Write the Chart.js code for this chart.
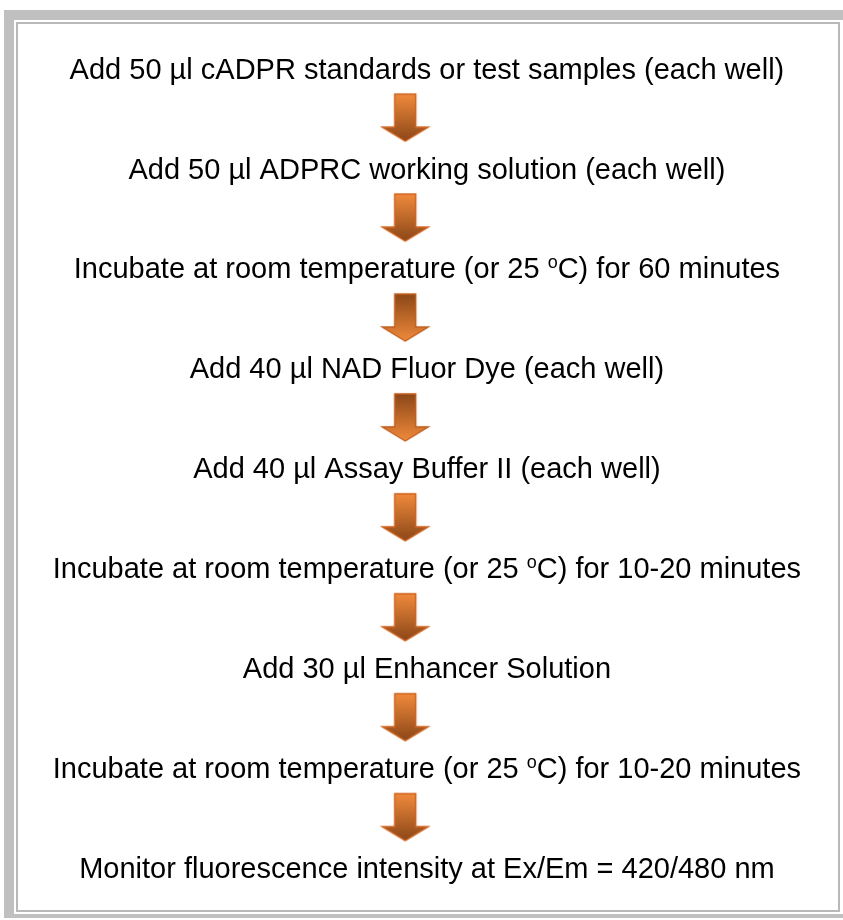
<!DOCTYPE html>
<html><head><meta charset="utf-8">
<script src="https://cdn.jsdelivr.net/npm/chart.js@4.4.0/dist/chart.umd.min.js"></script>
<style>
html,body{margin:0;padding:0;background:#fff;overflow:hidden;width:843px;height:920px}
#outer{position:absolute;left:4px;top:10px;width:860px;height:908px;background:#c0c0c0}
#inner{position:absolute;left:14px;top:20px;width:850px;height:894px;background:#fff}
#line{position:absolute;left:16px;top:22px;width:820px;height:886px;border:2px solid #b9b9b9}
#wrap{position:absolute;left:0;top:0;width:843px;height:920px}
</style></head><body>
<div id="outer"></div><div id="inner"></div><div id="line"></div>
<div id="wrap"><canvas id="c"></canvas></div>
<script>
// ---- data ----
const steps = [
  "Add 50 µl cADPR standards or test samples (each well)",
  "Add 50 µl ADPRC working solution (each well)",
  "Incubate at room temperature (or 25 <sup>o</sup>C) for 60 minutes",
  "Add 40 µl NAD Fluor Dye (each well)",
  "Add 40 µl Assay Buffer II (each well)",
  "Incubate at room temperature (or 25 <sup>o</sup>C) for 10-20 minutes",
  "Add 30 µl Enhancer Solution",
  "Incubate at room temperature (or 25 <sup>o</sup>C) for 10-20 minutes",
  "Monitor fluorescence intensity at Ex/Em = 420/480 nm"
];
const stepIndex = steps.map((s, i) => i);
const arrowIndex = steps.slice(1).map((s, i) => i + 0.5);

// ---- styles ----
const FONT_FAMILY = '"Liberation Sans", Arial, sans-serif';
const FONT_SIZE = 29;
const ARROW_DX = -22;                 // arrow column offset from text centre (px units of x scale)
const ARROW_SHADE = ['down','down','up','up','down','down','down','down'];
const LIGHT = '#f08a3c', DARK = '#8c4718';

function makeArrow(dir) {
  const c = document.createElement('canvas');
  c.width = 54; c.height = 52;
  const g = c.getContext('2d');
  const cx = 27, top = 2, neck = 35, tip = 49, hw = 10.5, hh = 23;
  const grad = g.createLinearGradient(0, top, 0, tip);
  if (dir === 'down') { grad.addColorStop(0, LIGHT); grad.addColorStop(1, DARK); }
  else { grad.addColorStop(0, DARK); grad.addColorStop(1, LIGHT); }
  g.beginPath();
  g.moveTo(cx - hw, top); g.lineTo(cx + hw, top); g.lineTo(cx + hw, neck);
  g.lineTo(cx + hh, neck); g.lineTo(cx, tip); g.lineTo(cx - hh, neck);
  g.lineTo(cx - hw, neck); g.closePath();
  g.shadowColor = 'rgba(240,150,90,0.7)'; g.shadowBlur = 2;
  g.fillStyle = grad; g.fill();
  g.shadowBlur = 0;
  g.lineWidth = 1.4; g.strokeStyle = dir === 'down' ? '#cf6420' : '#c06020';
  g.stroke();
  return c;
}
const arrowImgs = ARROW_SHADE.map(makeArrow);

function parseSegments(s) {
  const out = []; const re = /<sup>(.*?)<\/sup>/g; let last = 0, m;
  while ((m = re.exec(s))) {
    if (m.index > last) out.push({t: s.slice(last, m.index), sup: false});
    out.push({t: m[1], sup: true}); last = re.lastIndex;
  }
  if (last < s.length) out.push({t: s.slice(last), sup: false});
  return out;
}

const labelPlugin = {
  id: 'stepLabels',
  afterDatasetsDraw(chart) {
    const meta = chart.getDatasetMeta(0);
    const ctx = chart.ctx;
    ctx.save();
    ctx.fillStyle = '#000';
    ctx.textBaseline = 'alphabetic';
    ctx.textAlign = 'left';
    meta.data.forEach((pt, i) => {
      const segs = parseSegments(steps[i]);
      const norm = FONT_SIZE + 'px ' + FONT_FAMILY;
      const sup = Math.round(FONT_SIZE * 0.62) + 'px ' + FONT_FAMILY;
      let total = 0;
      segs.forEach(sg => { ctx.font = sg.sup ? sup : norm; sg.w = ctx.measureText(sg.t).width; total += sg.w; });
      let x = pt.x - total / 2;
      const base = pt.y + FONT_SIZE * 0.36;
      segs.forEach(sg => {
        ctx.font = sg.sup ? sup : norm;
        ctx.fillText(sg.t, x, sg.sup ? base - FONT_SIZE * 0.36 : base);
        x += sg.w;
      });
    });
    ctx.restore();
  }
};

new Chart(document.getElementById('c'), {
  type: 'scatter',
  data: {
    datasets: [
      { label: 'steps', data: stepIndex.map(v => ({x: 0, y: v})), pointRadius: 0, showLine: false },
      { label: 'arrows', data: arrowIndex.map(v => ({x: ARROW_DX, y: v})), pointRadius: 5,
        pointStyle: ctx => arrowImgs[ctx.dataIndex], showLine: false }
    ]
  },
  options: {
    responsive: true, maintainAspectRatio: false, animation: false, events: [],
    layout: { padding: 0 },
    plugins: { legend: { display: false }, tooltip: { enabled: false } },
    scales: {
      x: { type: 'linear', display: false, min: -427, max: 416 },
      y: { type: 'linear', display: false, reverse: true, min: -63 / 101.25, max: (920 - 63) / 101.25 }
    }
  },
  plugins: [labelPlugin]
});
</script>
</body></html>
